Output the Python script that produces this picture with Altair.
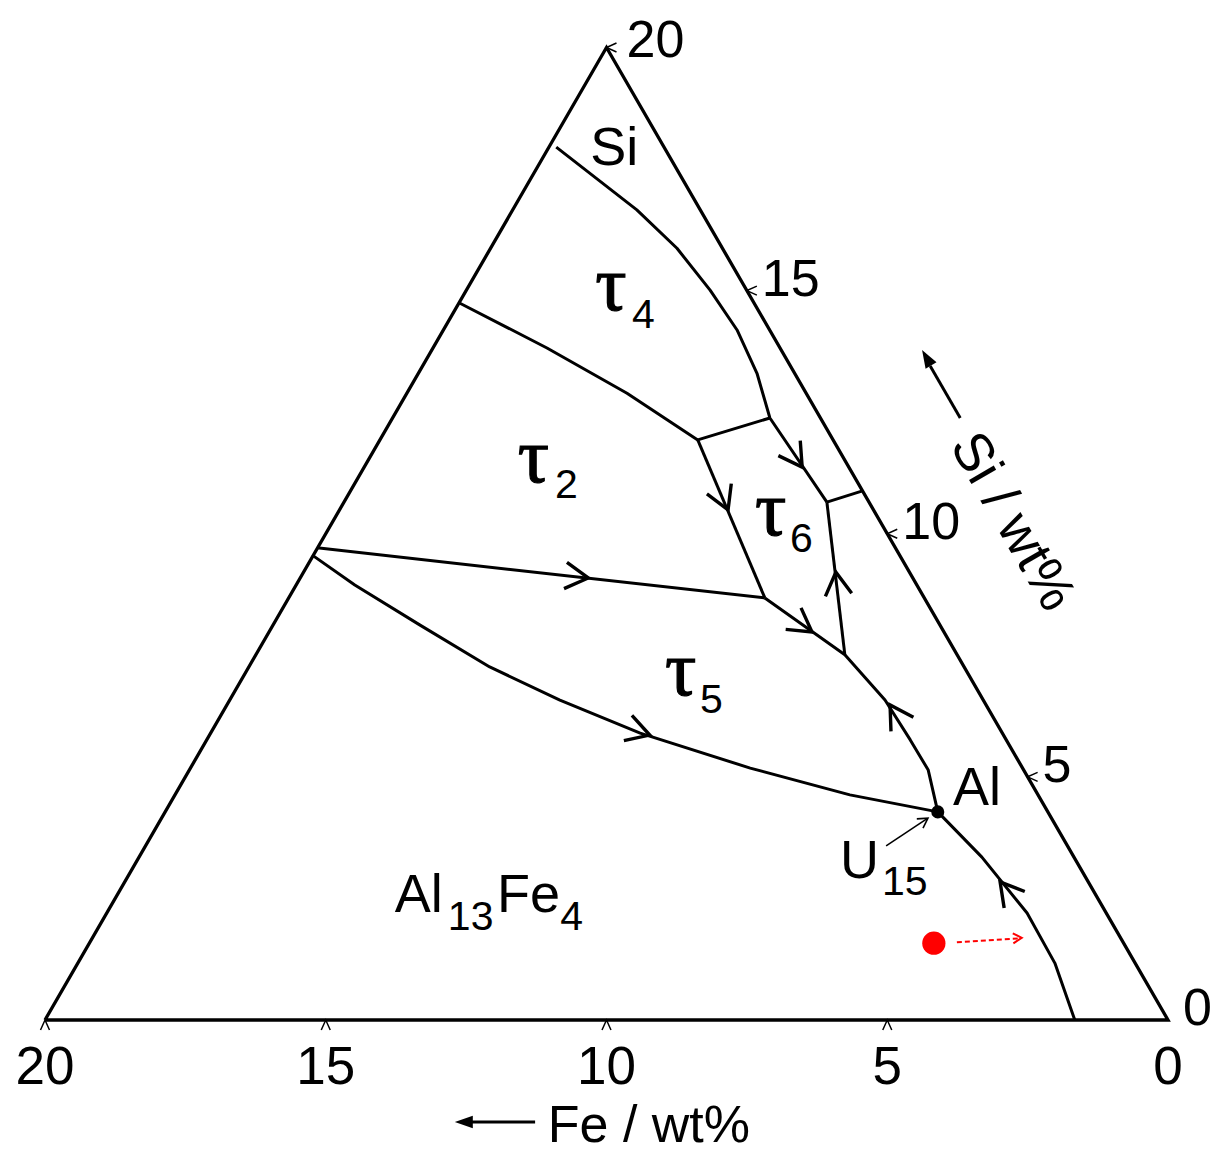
import math
import altair as alt
import pandas as pd

# ---------------- data (all positions in wt% Fe, wt% Si) ----------------
TRI_FE = [20, 0, 0, 20]
TRI_SI = [0, 0, 20, 0]

L_SI_T4_FE = [1.92, 1.13, 0.81, 0.65, 0.58, 0.67, 0.90, 0.75]
L_SI_T4_SI = [17.95, 16.66, 15.87, 15.01, 14.19, 13.30, 12.38, 10.65]
L_SI_T6_FE = [0.75, 0.0]
L_SI_T6_SI = [10.65, 10.88]
L_T4_T2_FE = [5.24, 4.15, 3.19, 2.41, 0.90]
L_T4_T2_SI = [14.74, 13.82, 12.89, 11.93, 12.38]
L_T2_T6_FE = [2.41, 2.84]
L_T2_T6_SI = [11.93, 8.68]
L_T2_T5_FE = [10.30, 2.84]
L_T2_T5_SI = [9.71, 8.68]
L_T6_T5_FE = [2.84, 2.00, 1.75, 1.71, 1.70, 1.96]
L_T6_T5_SI = [8.68, 7.51, 6.58, 5.76, 5.14, 4.28]
L_T6_AL_FE = [0.75, 2.00]
L_T6_AL_SI = [10.65, 7.51]
L_T5_A_FE = [10.46, 10.01, 9.26, 8.45, 7.54, 6.45, 4.85, 3.35, 1.96]
L_T5_A_SI = [9.56, 8.945, 8.12, 7.26, 6.58, 5.90, 5.18, 4.63, 4.28]
L_AL_A_FE = [1.96, 1.64, 1.41, 1.43, 1.66]
L_AL_A_SI = [4.28, 3.35, 2.20, 1.17, 0.0]

# direction arrows on the lines
ARROW_FE = [5.78, 6.30, 2.59, 0.83, 2.35, 1.31, 1.71, 1.57]
ARROW_SI = [9.09, 5.86, 10.49, 11.37, 7.98, 9.21, 6.48, 2.84]
ARROW_ANG = [96.4, 107.7, 157.0, 145.8, 125.5, 353.3, 328.0, 321.2]

# invariant point U15 and alloy
U15_FE = [1.96]
U15_SI = [4.28]
ALLOY_FE = [3.38]
ALLOY_SI = [1.58]
RED_FE = [2.96, 1.80]
RED_SI = [1.60, 1.68]
RED_HEAD_FE = [1.76]
RED_HEAD_SI = [1.69]
RED_HEAD_ANG = [86.5]
PTR_FE = [3.23, 2.22]
PTR_SI = [3.58, 4.14]
PTR_HEAD_FE = [2.20]
PTR_HEAD_SI = [4.15]
PTR_HEAD_ANG = [56.3]

# axes
TICKS = [20, 15, 10, 5, 0]
TICK_LABELS = ["20", "15", "10", "5", "0"]
RIGHT_TICKS = [15, 10, 5, 0]
RIGHT_LABELS = ["15", "10", "5", "0"]
TOP_TICK = [20]
TOP_LABEL = ["20"]
TICK_MARKS = [20, 15, 10, 5]

# axis title arrows
TITLE_LINE_FE = [[13.48, 12.32], [-2.49, -2.49]]
TITLE_LINE_SI = [[-2.097, -2.097], [13.45, 12.38]]
TITLE_HEAD_FE = [13.75, -2.51]
TITLE_HEAD_SI = [-2.097, 13.78]
TITLE_HEAD_ANG = [0, 60]

# labels
MAIN_TEXT = ["Si", "Al", "U", "Al", "Fe"]
MAIN_FE = [1.50, 1.62, 4.38, 12.66, 10.84]
MAIN_SI = [17.58, 4.42, 2.92, 2.22, 2.22]
SUB_TEXT = ["4", "2", "6", "5", "15", "13", "4"]
SUB_FE = [2.43, 5.55, 1.92, 5.18, 3.81, 11.90, 9.90]
SUB_SI = [14.23, 10.73, 9.62, 6.31, 2.57, 1.85, 1.85]
TAU_FE = [2.90, 6.05, 2.37, 5.62]
TAU_SI = [14.60, 11.06, 9.97, 6.68]

FE_TITLE = "Fe / wt%"
FE_TITLE_FE = [12.30]
FE_TITLE_SI = [-2.509]
SI_TITLE = "Si / wt%"
SI_TITLE_FE = [-2.34]
SI_TITLE_SI = [10.24]

# ---------------- build ----------------
H = math.sqrt(3) / 2
XS = alt.Scale(domain=[-0.80142, 20.6589], reverse=True, nice=False, zero=False)
YS = alt.Scale(domain=[-2.38646, 18.0232], nice=False, zero=False)
X = alt.X("px:Q", scale=XS, axis=None)
Y = alt.Y("py:Q", scale=YS, axis=None)

SANS = "Liberation Sans"
SERIF = "Liberation Serif"
CHEVRON = "M-0.5,0.866L0,0L0.5,0.866"
HEAD = "M0,0L2,-0.7L2,0.7Z"


def pts(fe, si, **extra):
    d = {"fe": fe, "si": si}
    d.update(extra)
    return pd.DataFrame(d)


def base(df):
    return alt.Chart(df).transform_calculate(
        px="datum.fe + datum.si / 2", py=f"datum.si * {H}"
    )


lines = [
    ("tri", TRI_FE, TRI_SI),
    ("si_t4", L_SI_T4_FE, L_SI_T4_SI),
    ("si_t6", L_SI_T6_FE, L_SI_T6_SI),
    ("t4_t2", L_T4_T2_FE, L_T4_T2_SI),
    ("t2_t6", L_T2_T6_FE, L_T2_T6_SI),
    ("t2_t5", L_T2_T5_FE, L_T2_T5_SI),
    ("t6_t5", L_T6_T5_FE, L_T6_T5_SI),
    ("t6_al", L_T6_AL_FE, L_T6_AL_SI),
    ("t5_a", L_T5_A_FE, L_T5_A_SI),
    ("al_a", L_AL_A_FE, L_AL_A_SI),
]
rows = []
for name, fe, si in lines:
    for i, (f, s) in enumerate(zip(fe, si)):
        rows.append({"line": name, "i": i, "fe": f, "si": s})
curves_df = pd.DataFrame(rows)

tri = base(curves_df[curves_df.line == "tri"]).mark_line(
    color="black", strokeWidth=3.3, strokeJoin="miter"
).encode(x=X, y=Y, order="i:O")

curves = base(curves_df[curves_df.line != "tri"]).mark_line(
    color="black", strokeWidth=3, strokeJoin="round"
).encode(x=X, y=Y, detail="line:N", order="i:O")

arrows = base(pts(ARROW_FE, ARROW_SI, ang=ARROW_ANG)).mark_point(
    shape=CHEVRON, size=2800, filled=False, strokeWidth=3.4, color="black",
    opacity=1, strokeJoin="miter"
).encode(x=X, y=Y, angle=alt.Angle("ang:Q", scale=None))

u15 = base(pts(U15_FE, U15_SI)).mark_point(
    shape="circle", filled=True, size=170, color="black", opacity=1
).encode(x=X, y=Y)

alloy = base(pts(ALLOY_FE, ALLOY_SI)).mark_point(
    shape="circle", filled=True, size=540, color="#ff0000", opacity=1
).encode(x=X, y=Y)

red_line = base(pts(RED_FE, RED_SI, i=[0, 1])).mark_line(
    color="#ff0000", strokeWidth=2, strokeDash=[5, 3]
).encode(x=X, y=Y, order="i:O")

red_head = base(pts(RED_HEAD_FE, RED_HEAD_SI, ang=RED_HEAD_ANG)).mark_point(
    shape=CHEVRON, size=400, filled=False, strokeWidth=2, color="#ff0000", opacity=1
).encode(x=X, y=Y, angle=alt.Angle("ang:Q", scale=None))

ptr_line = base(pts(PTR_FE, PTR_SI, i=[0, 1])).mark_line(
    color="black", strokeWidth=1.6
).encode(x=X, y=Y, order="i:O")

ptr_head = base(pts(PTR_HEAD_FE, PTR_HEAD_SI, ang=PTR_HEAD_ANG)).mark_point(
    shape=CHEVRON, size=500, filled=False, strokeWidth=1.6, color="black", opacity=1
).encode(x=X, y=Y, angle=alt.Angle("ang:Q", scale=None))

bottom_marks = base(pts(TICK_MARKS, [0] * len(TICK_MARKS))).mark_point(
    shape="M-0.45,1L0,0L0.45,1", size=400, filled=False, strokeWidth=1.5,
    color="black", opacity=1
).encode(x=X, y=Y)

right_marks = base(pts([0] * len(TICK_MARKS), TICK_MARKS)).mark_point(
    shape="M1,-0.45L0,0L1,0.45", size=400, filled=False, strokeWidth=1.5,
    color="black", opacity=1
).encode(x=X, y=Y)

bottom_labels = base(pts(TICKS, [0] * len(TICKS), t=TICK_LABELS)).mark_text(
    font=SANS, fontSize=53, align="center", baseline="alphabetic", dy=64,
    color="black"
).encode(x=X, y=Y, text="t:N")

right_labels = base(pts([0] * len(RIGHT_TICKS), RIGHT_TICKS, t=RIGHT_LABELS)).mark_text(
    font=SANS, fontSize=52, align="left", baseline="alphabetic", dx=15, dy=5,
    color="black"
).encode(x=X, y=Y, text="t:N")

top_label = base(pts([0], TOP_TICK, t=TOP_LABEL)).mark_text(
    font=SANS, fontSize=52, align="left", baseline="alphabetic", dx=20, dy=10,
    color="black"
).encode(x=X, y=Y, text="t:N")

title_rows = []
for k, (fe, si) in enumerate(zip(TITLE_LINE_FE, TITLE_LINE_SI)):
    for i, (f, s) in enumerate(zip(fe, si)):
        title_rows.append({"line": k, "i": i, "fe": f, "si": s})
title_lines = base(pd.DataFrame(title_rows)).mark_line(
    color="black", strokeWidth=3
).encode(x=X, y=Y, detail="line:N", order="i:O")

title_heads = base(pts(TITLE_HEAD_FE, TITLE_HEAD_SI, ang=TITLE_HEAD_ANG)).mark_point(
    shape=HEAD, size=324, filled=True, color="black", opacity=1, strokeWidth=0
).encode(x=X, y=Y, angle=alt.Angle("ang:Q", scale=None))

fe_title = base(pts(FE_TITLE_FE, FE_TITLE_SI, t=[FE_TITLE])).mark_text(
    font=SANS, fontSize=52, align="left", baseline="alphabetic", color="black"
).encode(x=X, y=Y, text="t:N")

si_title = base(pts(SI_TITLE_FE, SI_TITLE_SI, t=[SI_TITLE])).mark_text(
    font=SANS, fontSize=54, align="center", baseline="middle", angle=60,
    color="black"
).encode(x=X, y=Y, text="t:N")

main_labels = base(pts(MAIN_FE, MAIN_SI, t=MAIN_TEXT)).mark_text(
    font=SANS, fontSize=54, align="left", baseline="alphabetic", color="black"
).encode(x=X, y=Y, text="t:N")

sub_labels = base(pts(SUB_FE, SUB_SI, t=SUB_TEXT)).mark_text(
    font=SANS, fontSize=41, align="left", baseline="alphabetic", color="black"
).encode(x=X, y=Y, text="t:N")

tau_labels = base(pts(TAU_FE, TAU_SI, t=["τ"] * len(TAU_FE))).mark_text(
    font=SERIF, fontSize=78, align="left", baseline="alphabetic", color="black",
    stroke="black", strokeWidth=1.2
).encode(x=X, y=Y, text="t:N")

chart = alt.layer(
    tri, curves, arrows, red_line, red_head, ptr_line, ptr_head, alloy, u15,
    bottom_marks, right_marks, bottom_labels, right_labels, top_label,
    title_lines, title_heads, fe_title, si_title,
    main_labels, sub_labels, tau_labels,
).properties(
    width=1205, height=1146, padding=0,
    autosize=alt.AutoSizeParams(type="none"),
).configure_view(stroke=None)

chart.save("out.html", embed_options={"renderer": "svg", "actions": False})
